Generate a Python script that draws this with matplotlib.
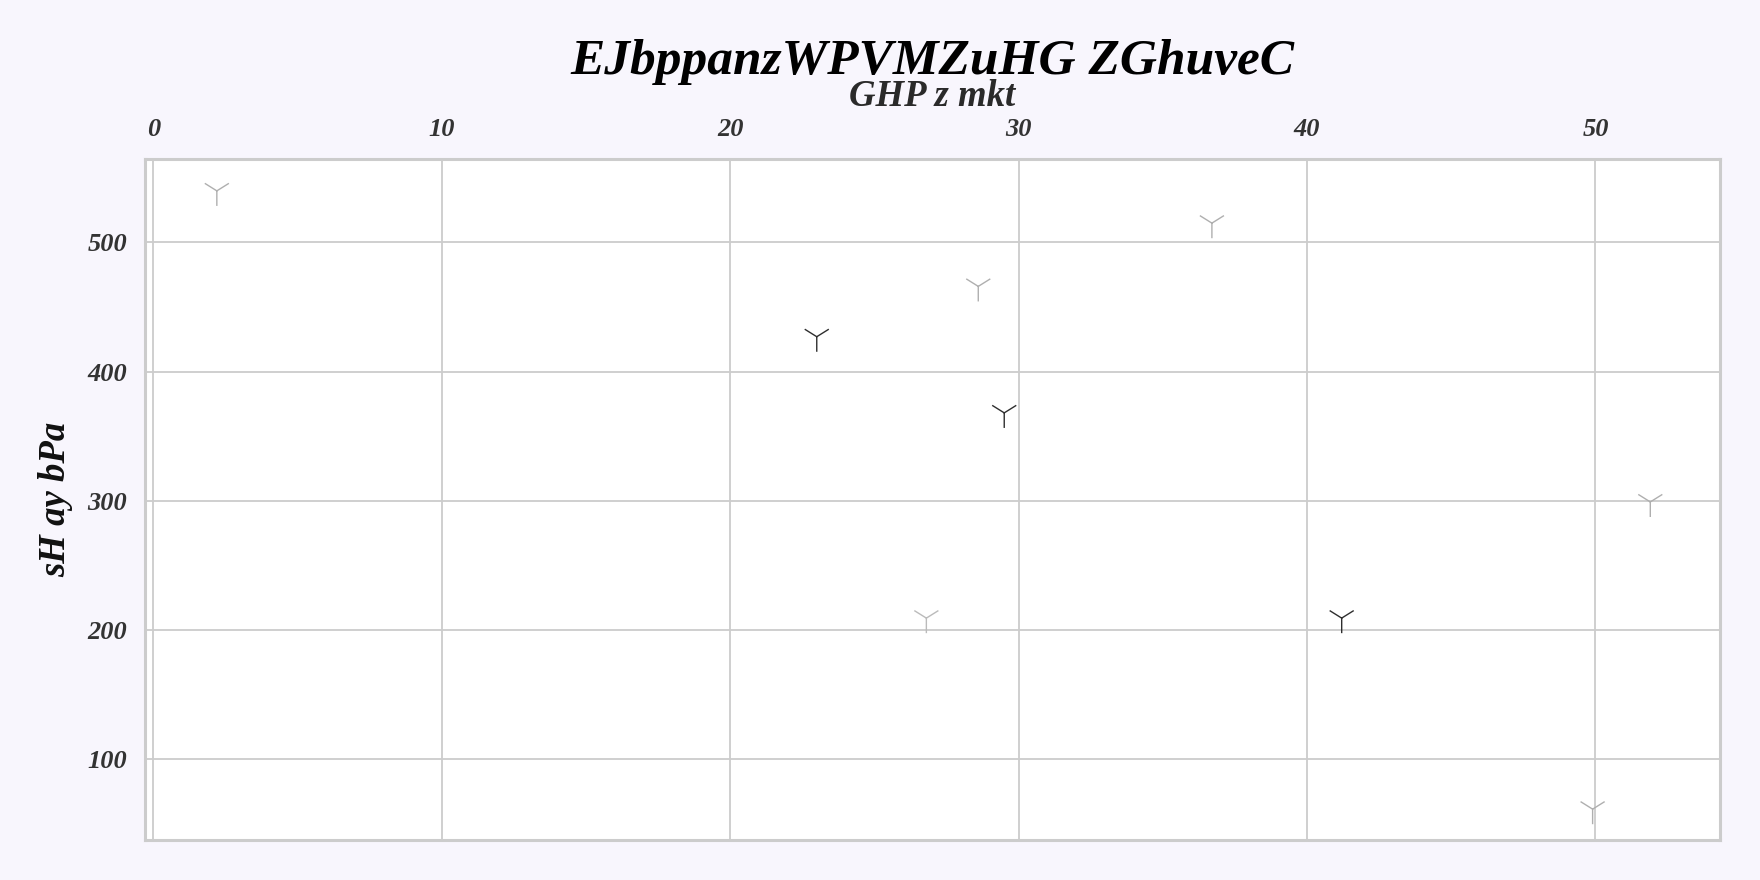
import matplotlib.pyplot as plt
from matplotlib import colors


FONT = "Liberation Serif"
BG = "#f8f6fd"
GRID = "#cccccc"

# scatter values
x_vals = [2.2, 23.0, 29.5, 28.6, 36.7, 26.8, 41.2, 51.9, 49.9]
y_vals = [540, 427, 368, 466, 515, 209, 209, 299, 61]
tone = [0.42, 0.85, 0.85, 0.42, 0.42, 0.38, 0.85, 0.42, 0.42]

x_ticks = [0, 10, 20, 30, 40, 50]
y_ticks = [100, 200, 300, 400, 500]

TITLE = "EJbppanzWPVMZuHG ZGhuveC"
X_LABEL = "GHP z mkt"
Y_LABEL = "sH ay bPa"


def main():
    plt.rcParams["font.family"] = [FONT, "DejaVu Serif"]

    fig = plt.figure(figsize=(17.6, 8.8), dpi=100, facecolor=BG)
    ax = fig.add_axes([0.0824, 0.0459, 0.8946, 0.773])
    ax.set_facecolor("white")

    norm = colors.Normalize(vmin=0, vmax=1)
    ax.scatter(x_vals, y_vals, c=tone, cmap="Greys", norm=norm,
               marker="1", s=470, linewidths=1, zorder=3)

    ax.set_xlim(-0.29, 54.3)
    ax.set_ylim(37.4, 564.4)

    ax.xaxis.tick_top()
    ax.xaxis.set_label_position("top")
    ax.set_xticks(x_ticks)
    ax.set_yticks(y_ticks)

    tick_font = dict(fontsize=19, fontweight="bold", fontstyle="italic", color="#333333")
    ax.set_xticklabels([str(t) for t in x_ticks], **tick_font)
    ax.set_yticklabels([str(t) for t in y_ticks], **tick_font)
    ax.tick_params(axis="x", length=0, pad=13)
    ax.tick_params(axis="y", length=0, pad=13)

    ax.grid(True, color=GRID, linewidth=1.3, zorder=0)
    ax.set_axisbelow(True)
    for side in ax.spines.values():
        side.set_color(GRID)
        side.set_linewidth(2.2)

    ax.set_xlabel(X_LABEL, fontsize=26.5, fontweight="bold", fontstyle="italic",
                  color="#2a2a2a", labelpad=9)
    ax.set_ylabel(Y_LABEL, fontsize=26.5, fontweight="bold", fontstyle="italic",
                  color="#111111")
    ax.yaxis.set_label_coords(-0.0456, 0.5)

    # the reference title sits partly over the axis label
    fig.text(0.5295, 0.9155, TITLE, ha="center", va="baseline", fontsize=37,
             fontweight="bold", fontstyle="italic", color="black")

    plt.savefig("out.png", dpi=100, facecolor=BG)


if __name__ == "__main__":
    main()
